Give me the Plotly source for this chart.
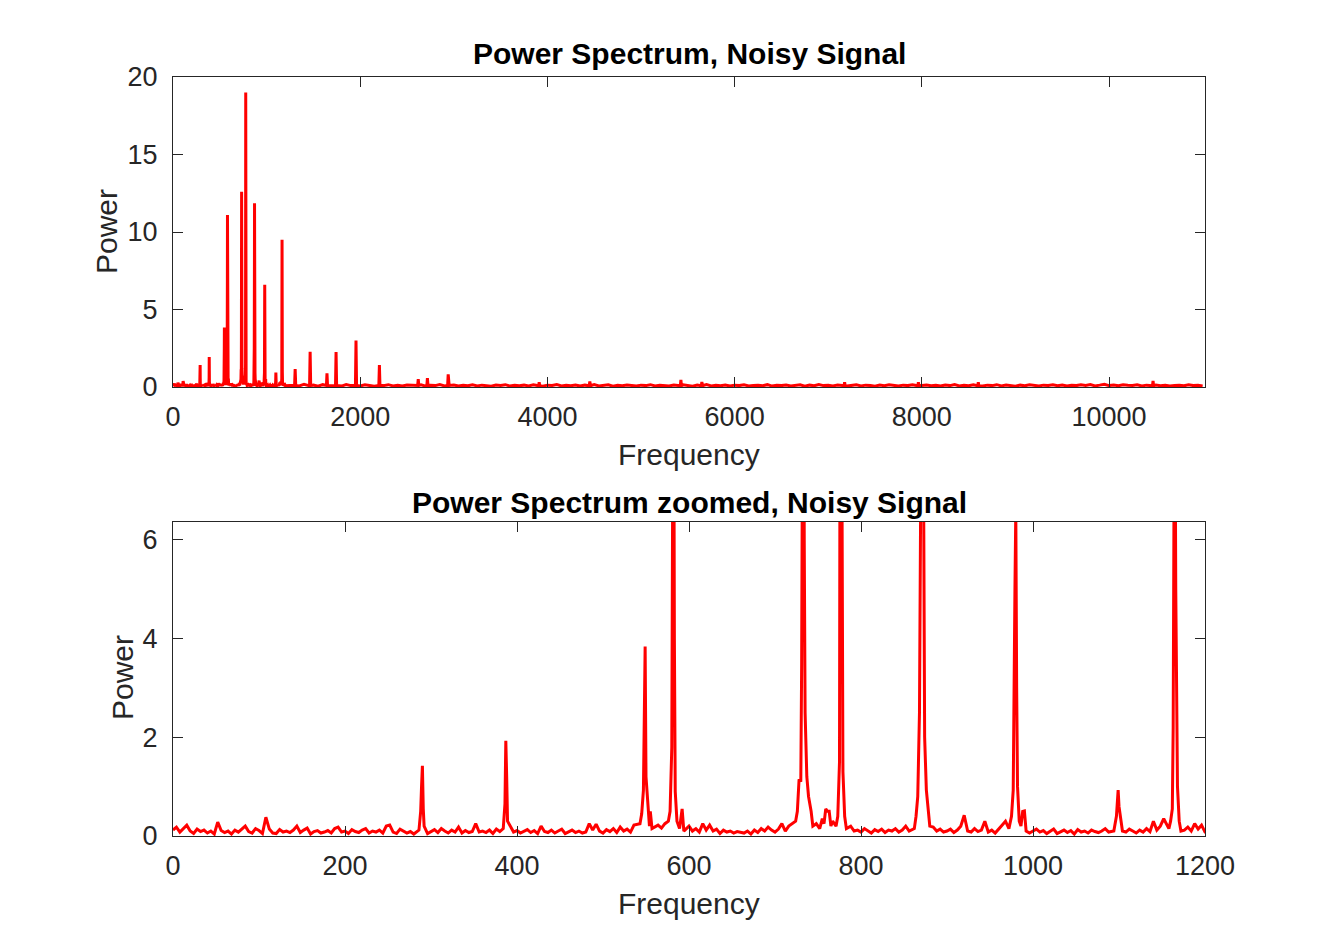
import plotly.graph_objects as go

# noise floor of the spectrum, 0-1200 Hz, one value every 4 Hz
fine_step = 4
fine_noise = [
    0.12, 0.18, 0.08, 0.15, 0.22, 0.10, 0.05, 0.14, 0.09, 0.12, 0.06, 0.10, 0.04, 0.28, 0.11,
    0.07, 0.10, 0.04, 0.12, 0.08, 0.15, 0.20, 0.09, 0.06, 0.15, 0.11, 0.05, 0.38, 0.14, 0.06,
    0.05, 0.13, 0.08, 0.10, 0.07, 0.12, 0.20, 0.07, 0.12, 0.16, 0.04, 0.09, 0.11, 0.06, 0.08,
    0.11, 0.06, 0.15, 0.18, 0.08, 0.10, 0.05, 0.13, 0.09, 0.07, 0.12, 0.15, 0.06, 0.10, 0.08,
    0.12, 0.06, 0.20, 0.22, 0.08, 0.05, 0.14, 0.10, 0.06, 0.09, 0.04, 0.10, 0.07, 0.12, 0.05,
    0.09, 0.13, 0.07, 0.15, 0.10, 0.06, 0.12, 0.08, 0.18, 0.06, 0.11, 0.07, 0.09, 0.25, 0.08,
    0.10, 0.07, 0.12, 0.05, 0.14, 0.09, 0.10, 0.06, 0.13, 0.08, 0.11, 0.06, 0.09, 0.13, 0.07,
    0.11, 0.05, 0.20, 0.09, 0.07, 0.12, 0.06, 0.10, 0.14, 0.05, 0.09, 0.12, 0.07, 0.10, 0.06,
    0.08, 0.25, 0.12, 0.24, 0.10, 0.06, 0.13, 0.09, 0.15, 0.07, 0.18, 0.10, 0.14, 0.08, 0.22,
    0.15, 0.30, 0.20, 0.12, 0.18, 0.30, 0.22, 0.16, 0.25, 0.12, 0.35, 0.20, 0.15, 0.50, 0.12,
    0.20, 0.10, 0.15, 0.08, 0.25, 0.12, 0.22, 0.10, 0.14, 0.05, 0.12, 0.08, 0.10, 0.06, 0.09,
    0.08, 0.06, 0.10, 0.04, 0.12, 0.07, 0.15, 0.10, 0.18, 0.12, 0.08, 0.14, 0.25, 0.10, 0.20,
    0.25, 0.30, 0.40, 0.60, 0.35, 0.30, 0.15, 0.25, 0.30, 0.20, 0.45, 0.30, 0.25, 0.35, 0.30,
    0.30, 0.15, 0.20, 0.10, 0.12, 0.08, 0.15, 0.10, 0.06, 0.13, 0.09, 0.14, 0.07, 0.12, 0.10,
    0.15, 0.08, 0.12, 0.20, 0.10, 0.25, 0.30, 0.40, 0.30, 0.15, 0.12, 0.18, 0.10, 0.14, 0.08,
    0.10, 0.14, 0.07, 0.12, 0.20, 0.42, 0.10, 0.08, 0.15, 0.09, 0.12, 0.30, 0.08, 0.12, 0.06,
    0.15, 0.22, 0.30, 0.40, 0.30, 0.20, 0.25, 0.10, 0.12, 0.06, 0.10, 0.14, 0.08, 0.11, 0.05,
    0.10, 0.14, 0.05, 0.09, 0.12, 0.07, 0.11, 0.04, 0.13, 0.08, 0.10, 0.06, 0.12, 0.09, 0.07,
    0.10, 0.15, 0.08, 0.20, 0.30, 0.20, 0.12, 0.08, 0.14, 0.10, 0.06, 0.12, 0.08, 0.15, 0.09,
    0.30, 0.12, 0.20, 0.35, 0.20, 0.15, 0.28, 0.10, 0.25, 0.12, 0.18, 0.10, 0.25, 0.14, 0.22,
    0.08,
]

# noise floor above 1200 Hz, one value every 50 Hz starting at 1250 Hz
coarse_start = 1250
coarse_step = 50
coarse_noise = [
    0.10, 0.14, 0.07, 0.18, 0.09, 0.12, 0.05, 0.15, 0.10, 0.08, 0.13, 0.06, 0.16, 0.09, 0.11, 0.07, 0.14, 0.10, 0.05, 0.12,
    0.09, 0.15, 0.07, 0.11, 0.06, 0.13, 0.10, 0.08, 0.14, 0.05, 0.12, 0.09, 0.16, 0.07, 0.10, 0.13, 0.06, 0.11, 0.08, 0.14,
    0.07, 0.12, 0.09, 0.05, 0.13, 0.10, 0.15, 0.06, 0.11, 0.08, 0.12, 0.07, 0.14, 0.09, 0.05, 0.12, 0.10, 0.16, 0.07, 0.11,
    0.08, 0.13, 0.06, 0.12, 0.09, 0.15, 0.07, 0.10, 0.14, 0.05, 0.11, 0.08, 0.13, 0.10, 0.06, 0.12, 0.09, 0.15, 0.07, 0.11,
    0.10, 0.06, 0.13, 0.08, 0.14, 0.09, 0.05, 0.12, 0.10, 0.16, 0.07, 0.11, 0.08, 0.13, 0.06, 0.12, 0.09, 0.14, 0.07, 0.10,
    0.12, 0.08, 0.15, 0.06, 0.11, 0.09, 0.13, 0.07, 0.10, 0.14, 0.05, 0.12, 0.08, 0.16, 0.09, 0.11, 0.07, 0.13, 0.10, 0.06,
    0.09, 0.14, 0.07, 0.12, 0.10, 0.05, 0.13, 0.08, 0.15, 0.11, 0.06, 0.12, 0.09, 0.14, 0.07, 0.10, 0.13, 0.08, 0.11, 0.06,
    0.13, 0.09, 0.16, 0.07, 0.11, 0.08, 0.14, 0.10, 0.06, 0.12, 0.09, 0.15, 0.07, 0.13, 0.10, 0.05, 0.12, 0.08, 0.14, 0.11,
    0.07, 0.12, 0.10, 0.15, 0.08, 0.13, 0.06, 0.11, 0.09, 0.14, 0.10, 0.16, 0.07, 0.12, 0.18, 0.09, 0.13, 0.08, 0.15, 0.11,
    0.10, 0.14, 0.07, 0.12, 0.09, 0.13, 0.08, 0.11, 0.06, 0.10, 0.12, 0.08, 0.14, 0.09, 0.11, 0.07,
]

# spectral peaks (frequency in Hz, power)
peak_freq = [
    286, 288, 289, 290, 291, 292,
    384, 386, 387, 388, 389,
    543, 545, 547, 548, 549, 550, 552, 554, 555, 557,
    576, 578, 580, 581, 582, 583, 584, 586, 589, 592, 594,
    724, 726, 728, 730, 731, 732, 733, 734, 735, 737, 739, 742, 744,
    752, 755, 757, 759, 761, 763, 765, 767,
    771, 773, 775, 776, 777, 778, 779, 781, 783,
    862, 864, 866, 868, 870, 871, 872, 873, 874, 876, 878, 880,
    972, 975, 977, 979, 980, 981, 982, 984, 986, 988, 990, 992,
    1094, 1097, 1099, 1100, 1102, 1104,
    1158, 1160, 1162, 1163, 1164, 1165, 1166, 1167, 1168, 1170, 1172,
]
peak_power = [
    0.12, 0.50, 1.00, 1.42, 0.55, 0.20,
    0.15, 0.65, 1.93, 1.20, 0.30,
    0.25, 0.45, 0.93, 2.50, 3.84, 1.20, 0.58, 0.20, 0.50, 0.15,
    0.30, 0.50, 1.80, 7.00, 11.10, 4.00, 0.90, 0.30, 0.15, 0.55, 0.10,
    0.30, 0.50, 1.15, 1.10, 3.50, 8.50, 12.60, 6.00, 2.50, 1.20, 0.80, 0.50, 0.20,
    0.15, 0.35, 0.25, 0.55, 0.50, 0.50, 0.20, 0.30,
    0.20, 0.40, 1.50, 13.30, 19.00, 6.50, 1.30, 0.40, 0.15,
    0.15, 0.40, 0.80, 2.50, 8.00, 11.85, 10.50, 6.50, 2.00, 0.93, 0.50, 0.20,
    0.15, 0.40, 0.93, 5.00, 6.60, 3.00, 1.00, 0.30, 0.20, 0.50, 0.51, 0.10,
    0.10, 0.40, 0.93, 0.60, 0.30, 0.10,
    0.15, 0.30, 0.55, 2.20, 7.00, 9.50, 5.00, 3.10, 1.00, 0.30, 0.10,
]

# smaller harmonics above 1200 Hz (only visible in the full spectrum)
tail_freq = [
    1299, 1305, 1311, 1459, 1465, 1471, 1639, 1645, 1651, 1736, 1742, 1748,
    1949, 1955, 1961, 2199, 2205, 2211, 2614, 2620, 2626, 2712, 2718, 2724,
    2934, 2940, 2946, 3906, 3912, 3918, 4447, 4453, 4459, 5420, 5426, 5432,
    5644, 5650, 5656, 7169, 7175, 7181, 7957, 7963, 7969, 8597, 8603, 8609,
    10464, 10470, 10476,
]
tail_power = [
    0.10, 1.15, 0.10, 0.10, 2.28, 0.10, 0.10, 0.88, 0.10, 0.10, 2.26, 0.10,
    0.10, 3.00, 0.10, 0.10, 1.42, 0.10, 0.10, 0.50, 0.10, 0.10, 0.58, 0.10,
    0.10, 0.82, 0.10, 0.08, 0.30, 0.08, 0.08, 0.35, 0.08, 0.08, 0.45, 0.08,
    0.08, 0.33, 0.08, 0.08, 0.30, 0.08, 0.08, 0.30, 0.08, 0.08, 0.30, 0.08,
    0.08, 0.40, 0.08,
]

# assemble one spectrum: noise bins, with peak bins replacing nearby noise
pts = []
for i, p in enumerate(fine_noise):
    pts.append((i * fine_step, p, "noise"))
for i, p in enumerate(coarse_noise):
    pts.append((coarse_start + i * coarse_step, p, "noise"))
for f, p in zip(peak_freq + tail_freq, peak_power + tail_power):
    pts.append((f, p, "peak"))

peak_all = peak_freq + tail_freq
spectrum = []
for f, p, kind in pts:
    if kind == "noise" and any(abs(f - q) <= 3 for q in peak_all):
        continue
    spectrum.append((f, p))
spectrum.sort()
freq = [s[0] for s in spectrum]
power = [s[1] for s in spectrum]

W, H = 1333, 946
OFF = 8  # the page puts the figure 8px in from the top-left corner
ax_l, ax_r = 173 - OFF, 1205 - OFF
top_t, top_b = 77 - OFF, 387 - OFF
bot_t, bot_b = 522 - OFF, 836 - OFF

def py(v):
    return 1 - v / H

FONT = "Liberation Sans, Arial, Helvetica, sans-serif"
INK = "#262626"

fig = go.Figure()
for ax in ["x", "x2"]:
    fig.add_trace(go.Scatter(
        x=freq, y=power, mode="lines",
        line=dict(color="#ff0000", width=3),
        xaxis=ax, yaxis=ax.replace("x", "y"),
        showlegend=False, hoverinfo="x+y",
    ))

axis_common = dict(
    showline=True, linecolor=INK, linewidth=1, mirror="ticks",
    ticks="inside", ticklen=10, tickcolor=INK, tickwidth=1,
    showgrid=False, zeroline=False, automargin=False,
    tickfont=dict(family=FONT, size=27, color=INK),
)

fig.update_layout(
    width=W, height=H, autosize=False,
    margin=dict(l=0, r=0, t=0, b=0, pad=0, autoexpand=False),
    paper_bgcolor="white", plot_bgcolor="white",
    xaxis=dict(axis_common, domain=[ax_l / W, ax_r / W], anchor="y",
               range=[0, 11025], tickvals=[0, 2000, 4000, 6000, 8000, 10000],
               tickformat="d", ticklabelstandoff=6),
    yaxis=dict(axis_common, domain=[py(top_b), py(top_t)], anchor="x",
               range=[0, 20], tickvals=[0, 5, 10, 15, 20], ticklabelstandoff=9),
    xaxis2=dict(axis_common, domain=[ax_l / W, ax_r / W], anchor="y2",
                range=[0, 1200], tickvals=[0, 200, 400, 600, 800, 1000, 1200],
                tickformat="d", ticklabelstandoff=6),
    yaxis2=dict(axis_common, domain=[py(bot_b), py(bot_t)], anchor="x2",
                range=[0, 6.36], tickvals=[0, 2, 4, 6], ticklabelstandoff=9),
)

cx = (ax_l + ax_r) / 2 / W
labels = [
    ("<b>Power Spectrum, Noisy Signal</b>", cx, py(54 - OFF), 0, "black"),
    ("<b>Power Spectrum zoomed, Noisy Signal</b>", cx, py(502 - OFF), 0, "black"),
    ("Frequency", cx, py(454 - OFF), 0, INK),
    ("Frequency", cx, py(903 - OFF), 0, INK),
    ("Power", (106 - OFF) / W, py(232 - OFF), -90, INK),
    ("Power", (122 - OFF) / W, py(678 - OFF), -90, INK),
]
for text, x, y, ang, col in labels:
    fig.add_annotation(text=text, x=x, y=y, xref="paper", yref="paper",
                       xanchor="center", yanchor="middle", textangle=ang,
                       showarrow=False, font=dict(family=FONT, size=30, color=col))

fig.write_html("out.html")
